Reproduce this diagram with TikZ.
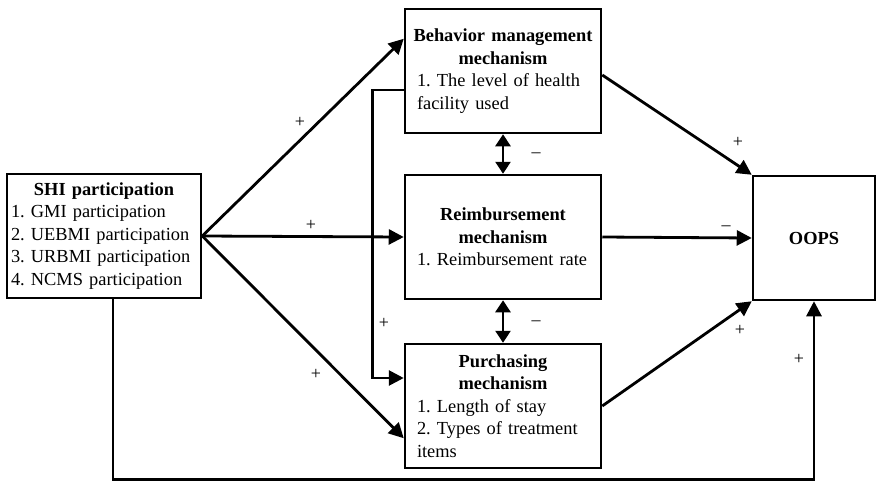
\documentclass[tikz,border=0pt]{standalone}
\usepackage{fontspec}
\setmainfont{Liberation Serif}
\usetikzlibrary{arrows.meta}
\frenchspacing
\hyphenpenalty=10000

\tikzset{
  box/.style={draw, line width=2.5pt, align=left, inner xsep=12pt, inner ysep=4pt,
    minimum height=124pt, text width=#1, font=\fontsize{18.4}{22.5}\selectfont},
  box/.default=172pt,
  link/.style={line width=2.8pt, -{Triangle[length=15pt,width=15pt]}},
  twoway/.style={line width=2.8pt, {Triangle[length=12pt,width=15pt]}-{Triangle[length=12pt,width=15pt]}},
  sign/.style={inner sep=0pt, font=\fontsize{18}{20}\selectfont}
}
\newcommand{\boxtitle}[1]{\makebox[\linewidth]{\textbf{#1}}}

\begin{document}
\begin{tikzpicture}[x=1pt, y=-1pt]
        \useasboundingbox (0,0) rectangle (876,482);

        % Boxes
        \node[box=186pt, inner xsep=4pt] (shi) at (104,236)
          {\boxtitle{SHI participation}\\
           1. GMI participation\\2. UEBMI participation\\3. URBMI participation\\4. NCMS participation};
        \node[box] (beh) at (503,71)
          {\boxtitle{Behavior management}\\\boxtitle{mechanism}\\
           1. The level of health\\facility used};
        \node[box] (reim) at (503,237)
          {\boxtitle{Reimbursement}\\\boxtitle{mechanism}\\
           1. Reimbursement rate};
        \node[box] (purch) at (503,406)
          {\boxtitle{Purchasing}\\\boxtitle{mechanism}\\
           1. Length of stay\\2. Types of treatment\\items};
        \node[draw, line width=2.5pt, minimum width=122pt, minimum height=124pt,
          font=\fontsize{18.4}{22.5}\selectfont\bfseries] (oops) at (814,238) {OOPS};

        % Paths from SHI participation
        \draw[link] (shi.east) -- ([yshift=-31pt]beh.north west);
        \draw[link] (shi.east) -- (reim.west);
        \draw[link] (shi.east) -- ([yshift=31pt]purch.south west);
        \draw[link] ([xshift=9pt]shi.south) -- ++(0,180) -| (oops.south);

        % Behavior to purchasing
        \draw[link] ([yshift=-19pt]beh.west) -- ++(-31,0) |- ([yshift=28pt]purch.west);

        % Between the mechanisms
        \draw[twoway] (beh.south) -- (reim.north);
        \draw[twoway] (reim.south) -- (purch.north);

        % Mechanisms to OOPS
        \draw[link] ([yshift=-4pt]beh.east) -- (oops.north west);
        \draw[link] (reim.east) -- (oops.west);
        \draw[link] (purch.east) -- (oops.south west);

        % Signs
        \node[sign] (s1) at (300,122) {+};
        \node[sign] (s2) at (311,225) {+};
        \node[sign] (s3) at (316,374) {+};
        \node[sign] (s4) at (384,323) {+};
        \node[sign] (s5) at (536,155) {\textendash};
        \node[sign] (s6) at (536,323) {\textendash};
        \node[sign] (s7) at (738,142) {+};
        \node[sign] (s8) at (726,228) {\textendash};
        \node[sign] (s9) at (740,330) {+};
        \node[sign] (s10) at (799,359) {+};
      \end{tikzpicture}
\end{document}
